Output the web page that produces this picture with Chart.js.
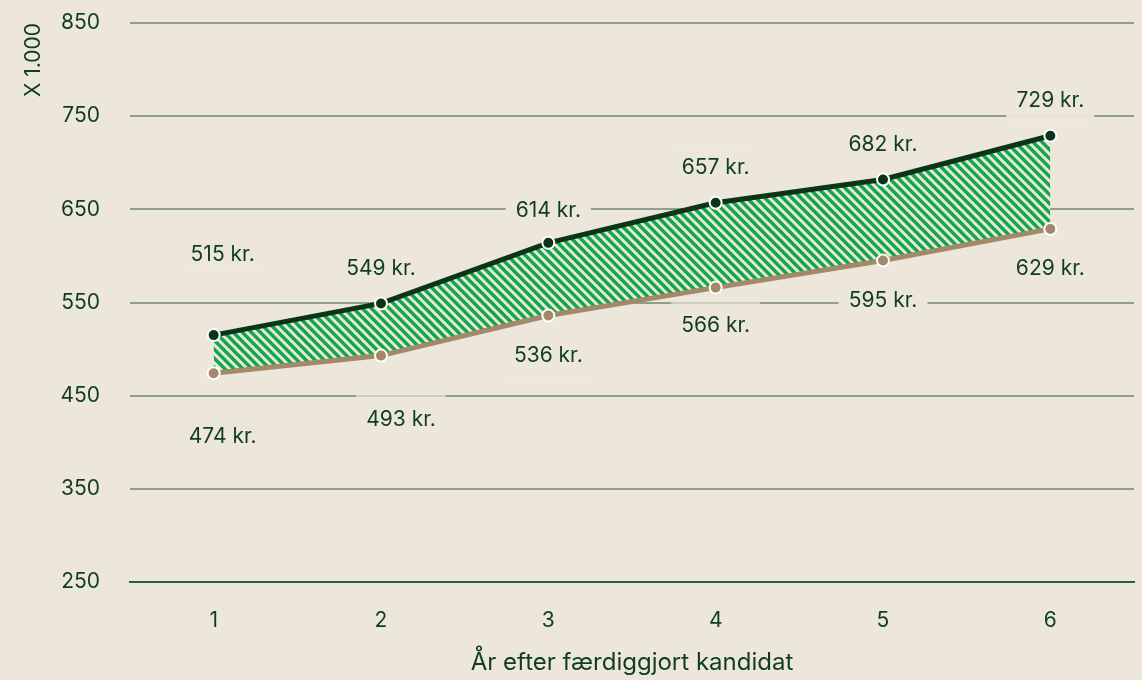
<!DOCTYPE html>
<html>
<head>
<meta charset="utf-8">
<script src="https://cdn.jsdelivr.net/npm/chart.js@4"></script>
<style>
  html, body { margin: 0; padding: 0; background: #ece6db; }
  #wrap { width: 1142px; height: 680px; }
</style>
</head>
<body>
<div id="wrap"><canvas id="lonChart" width="1142" height="680"></canvas></div>
<script>
const years = ['1', '2', '3', '4', '5', '6'];
const highValues = [515, 549, 614, 657, 682, 729];
const lowValues = [474, 493, 536, 566, 595, 629];
const yTicks = [250, 350, 450, 550, 650, 750, 850];

const BG = '#ece6db';
const INK = '#0f3d22';
const FONT = 'Inter, "Noto Sans", sans-serif';

// label placement relative to the point (dx, dy)
const highLabelPos = [[9, -80], [0, -35], [0, -32], [0, -35], [0, -35], [0, -35]];
const lowLabelPos = [[9, 63], [20, 64], [0, 40], [0, 38], [0, 40], [0, 40]];

function hatch(){
  const c = document.createElement('canvas');
  c.width = 9; c.height = 9;
  const g = c.getContext('2d');
  g.fillStyle = BG;
  g.fillRect(0, 0, 9, 9);
  g.strokeStyle = '#10a84a';
  g.lineWidth = 3.4;
  g.beginPath();
  g.moveTo(-9, -9); g.lineTo(18, 18);
  g.moveTo(-9, 0); g.lineTo(9, 18);
  g.moveTo(0, -9); g.lineTo(18, 9);
  g.stroke();
  return g.createPattern(c, 'repeat');
}

const valueLabels = {
  id: 'valueLabels',
  beforeDatasetsDraw(chart){
    const ctx = chart.ctx;
    ctx.save();
    ctx.font = '21px ' + FONT;
    ctx.textAlign = 'center';
    ctx.textBaseline = 'middle';
    const sets = [[0, highLabelPos], [1, lowLabelPos]];
    sets.forEach(([di, pos]) => {
      const meta = chart.getDatasetMeta(di);
      const vals = chart.data.datasets[di].data;
      meta.data.forEach((pt, i) => {
        const x = pt.x + pos[i][0];
        const y = pt.y + pos[i][1];
        const txt = vals[i] + ' kr.';
        const w = ctx.measureText(txt).width + 20;
        ctx.fillStyle = 'rgba(236,230,219,0.65)';
        ctx.fillRect(x - w / 2, y - 26, w, 52);
        ctx.fillStyle = BG;
        ctx.fillRect(x - w / 2, y - 16, w, 32);
        ctx.fillStyle = INK;
        ctx.fillText(txt, x, y);
      });
    });
    ctx.restore();
  }
};

const ctx = document.getElementById('lonChart');
new Chart(ctx, {
  type: 'line',
  data: {
    labels: years,
    datasets: [
      {
        label: 'Høj',
        data: highValues,
        order: 1,
        borderColor: '#0a3519',
        borderWidth: 5,
        pointRadius: 6,
        pointBorderWidth: 2,
        pointBackgroundColor: '#0a3519',
        pointBorderColor: '#ffffff',
        fill: '+1',
        backgroundColor: hatch(),
        tension: 0
      },
      {
        label: 'Lav',
        data: lowValues,
        order: 0,
        borderColor: '#a3896a',
        borderWidth: 5,
        pointRadius: 6,
        pointBorderWidth: 2,
        pointBackgroundColor: '#a3896a',
        pointBorderColor: '#ffffff',
        fill: false,
        tension: 0
      }
    ]
  },
  options: {
    responsive: false,
    animation: false,
    layout: { padding: { top: 23, right: 0, left: 0, bottom: 0 } },
    plugins: {
      legend: { display: false },
      tooltip: { enabled: false }
    },
    scales: {
      x: {
        offset: true,
        grid: { display: false, drawTicks: false },
        border: { display: true, color: '#2d5a3a', width: 2 },
        ticks: { color: INK, font: { family: FONT, size: 21 }, padding: 26 },
        title: {
          display: true,
          text: 'År efter færdiggjort kandidat',
          color: INK,
          font: { family: FONT, size: 24 },
          padding: { top: 0, bottom: 3 }
        },
        afterFit(scale){ scale.height = 98; }
      },
      y: {
        min: 250,
        max: 850,
        afterBuildTicks(scale){ scale.ticks = yTicks.map(v => ({ value: v })); },
        grid: {
          drawTicks: true,
          tickLength: 30,
          tickColor: 'rgba(0,0,0,0)',
          color: (c) => c.tick && c.tick.value === 250 ? 'rgba(0,0,0,0)' : '#8fa08a',
          lineWidth: 2
        },
        border: { display: false },
        ticks: { color: INK, font: { family: FONT, size: 21 }, padding: 0 },
        title: {
          display: true,
          text: 'X 1.000',
          align: 'end',
          color: INK,
          font: { family: FONT, size: 21 },
          padding: { top: 21, bottom: 0 }
        },
        afterFit(scale){ scale.width = 130; }
      }
    }
  },
  plugins: [valueLabels]
});
</script>
</body>
</html>
